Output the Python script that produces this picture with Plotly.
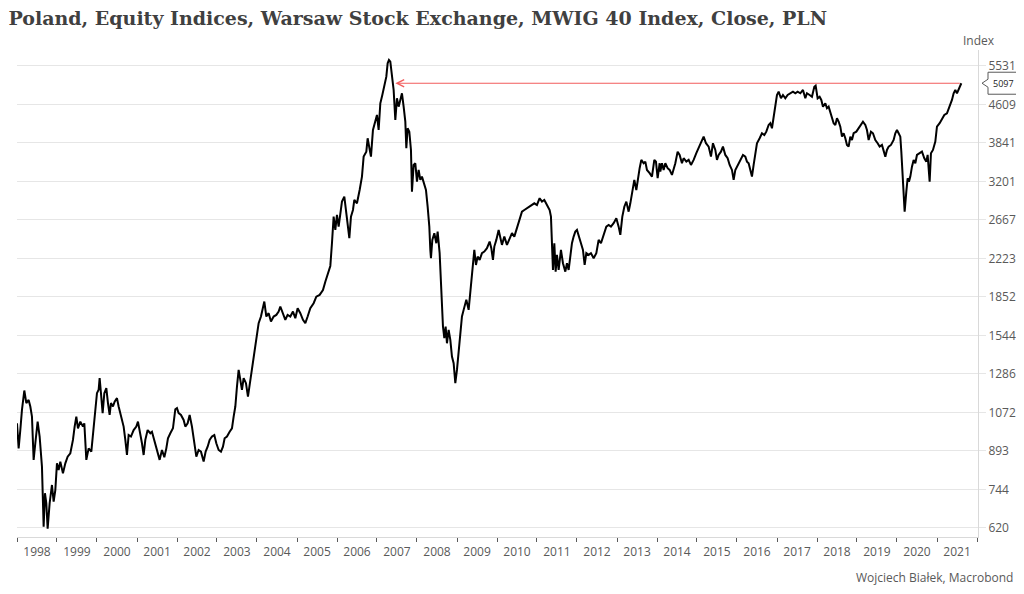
import math
import pandas as pd
import plotly.graph_objects as go

title_text = "Poland, Equity Indices, Warsaw Stock Exchange, MWIG 40 Index, Close, PLN"
source_text = "Wojciech Białek, Macrobond"
unit_text = "Index"

# observation time as fractional years
obs_year = [
    1998.000, 1998.041, 1998.083, 1998.124, 1998.183, 1998.233, 1998.291, 1998.333, 1998.374, 1998.416, 1998.458, 1998.516,
    1998.566, 1998.624, 1998.666, 1998.699, 1998.733, 1998.766, 1998.816, 1998.874, 1998.916, 1998.958, 1998.999, 1999.041,
    1999.083, 1999.149, 1999.208, 1999.266, 1999.333, 1999.399, 1999.441, 1999.483, 1999.524, 1999.583, 1999.649, 1999.683,
    1999.733, 1999.791, 1999.858, 1999.916, 1999.958, 1999.999, 2000.041, 2000.066, 2000.099, 2000.141, 2000.183, 2000.233,
    2000.274, 2000.316, 2000.349, 2000.399, 2000.441, 2000.499, 2000.541, 2000.599, 2000.666, 2000.708, 2000.749, 2000.791,
    2000.849, 2000.916, 2000.983, 2001.024, 2001.066, 2001.124, 2001.166, 2001.208, 2001.266, 2001.333, 2001.374, 2001.433,
    2001.499, 2001.566, 2001.624, 2001.683, 2001.733, 2001.774, 2001.833, 2001.899, 2001.958, 2001.999, 2002.041, 2002.099,
    2002.166, 2002.208, 2002.266, 2002.316, 2002.374, 2002.433, 2002.483, 2002.541, 2002.599, 2002.666, 2002.716, 2002.766,
    2002.816, 2002.874, 2002.933, 2002.983, 2003.041, 2003.099, 2003.149, 2003.191, 2003.249, 2003.316, 2003.374, 2003.416,
    2003.458, 2003.499, 2003.541, 2003.583, 2003.624, 2003.666, 2003.724, 2003.774, 2003.833, 2003.899, 2003.958, 2003.999,
    2004.041, 2004.099, 2004.149, 2004.183, 2004.233, 2004.291, 2004.349, 2004.416, 2004.483, 2004.541, 2004.583, 2004.649,
    2004.708, 2004.766, 2004.833, 2004.899, 2004.958, 2005.016, 2005.083, 2005.149, 2005.208, 2005.266, 2005.333, 2005.416,
    2005.483, 2005.566, 2005.649, 2005.708, 2005.791, 2005.833, 2005.874, 2005.916, 2005.958, 2005.999, 2006.041, 2006.083,
    2006.124, 2006.183, 2006.233, 2006.274, 2006.308, 2006.349, 2006.399, 2006.433, 2006.499, 2006.566, 2006.624, 2006.666,
    2006.733, 2006.766, 2006.816, 2006.849, 2006.899, 2006.958, 2006.999, 2007.041, 2007.083, 2007.133, 2007.183, 2007.233,
    2007.266, 2007.299, 2007.333, 2007.374, 2007.416, 2007.458, 2007.499, 2007.541, 2007.583, 2007.624, 2007.666, 2007.708,
    2007.733, 2007.766, 2007.808, 2007.849, 2007.874, 2007.916, 2007.958, 2007.999, 2008.041, 2008.083, 2008.124, 2008.166,
    2008.224, 2008.266, 2008.308, 2008.333, 2008.349, 2008.383, 2008.433, 2008.483, 2008.516, 2008.566, 2008.583, 2008.608,
    2008.649, 2008.683, 2008.716, 2008.749, 2008.791, 2008.833, 2008.874, 2008.916, 2008.958, 2008.999, 2009.041, 2009.083,
    2009.124, 2009.166, 2009.233, 2009.291, 2009.333, 2009.374, 2009.433, 2009.474, 2009.516, 2009.566, 2009.624, 2009.683,
    2009.749, 2009.816, 2009.858, 2009.899, 2009.933, 2009.983, 2010.041, 2010.124, 2010.183, 2010.249, 2010.316, 2010.374,
    2010.433, 2010.499, 2010.566, 2010.624, 2010.683, 2010.749, 2010.816, 2010.874, 2010.933, 2010.999, 2011.066, 2011.124,
    2011.183, 2011.249, 2011.316, 2011.349, 2011.374, 2011.399, 2011.433, 2011.466, 2011.499, 2011.541, 2011.599, 2011.649,
    2011.708, 2011.749, 2011.791, 2011.833, 2011.874, 2011.916, 2011.958, 2011.999, 2012.041, 2012.099, 2012.149, 2012.191,
    2012.233, 2012.291, 2012.349, 2012.416, 2012.483, 2012.541, 2012.599, 2012.666, 2012.733, 2012.791, 2012.849, 2012.916,
    2012.983, 2013.041, 2013.083, 2013.133, 2013.183, 2013.233, 2013.291, 2013.333, 2013.399, 2013.433, 2013.483, 2013.516,
    2013.566, 2013.608, 2013.666, 2013.708, 2013.749, 2013.816, 2013.874, 2013.933, 2013.974, 2014.016, 2014.066, 2014.083,
    2014.124, 2014.166, 2014.208, 2014.266, 2014.316, 2014.374, 2014.416, 2014.458, 2014.516, 2014.566, 2014.624, 2014.666,
    2014.733, 2014.791, 2014.849, 2014.916, 2014.983, 2015.041, 2015.099, 2015.166, 2015.224, 2015.291, 2015.349, 2015.399,
    2015.458, 2015.499, 2015.541, 2015.599, 2015.649, 2015.708, 2015.766, 2015.816, 2015.874, 2015.916, 2015.958, 2016.016,
    2016.083, 2016.149, 2016.208, 2016.249, 2016.291, 2016.333, 2016.374, 2016.416, 2016.458, 2016.499, 2016.566, 2016.624,
    2016.683, 2016.733, 2016.791, 2016.833, 2016.874, 2016.916, 2016.958, 2016.999, 2017.041, 2017.099, 2017.149, 2017.208,
    2017.266, 2017.333, 2017.399, 2017.458, 2017.516, 2017.583, 2017.649, 2017.708, 2017.749, 2017.816, 2017.874, 2017.933,
    2017.966, 2018.016, 2018.066, 2018.108, 2018.149, 2018.208, 2018.249, 2018.291, 2018.333, 2018.374, 2018.416, 2018.458,
    2018.499, 2018.541, 2018.583, 2018.624, 2018.666, 2018.708, 2018.749, 2018.791, 2018.833, 2018.874, 2018.916, 2018.983,
    2019.041, 2019.083, 2019.149, 2019.208, 2019.249, 2019.291, 2019.349, 2019.399, 2019.458, 2019.516, 2019.566, 2019.624,
    2019.666, 2019.708, 2019.749, 2019.791, 2019.849, 2019.916, 2019.958, 2019.999, 2020.041, 2020.083, 2020.108, 2020.133,
    2020.166, 2020.191, 2020.233, 2020.266, 2020.299, 2020.333, 2020.374, 2020.416, 2020.458, 2020.499, 2020.566, 2020.624,
    2020.683, 2020.733, 2020.766, 2020.791, 2020.816, 2020.849, 2020.899, 2020.958, 2020.999, 2021.066, 2021.124, 2021.183,
    2021.249, 2021.316, 2021.374, 2021.416, 2021.458, 2021.499, 2021.541, 2021.583, 2021.608,
]

# MWIG 40 close, PLN
close = [
    1018, 904, 986, 1085, 1189, 1120, 1137, 1102, 1051, 856, 926, 1026,
    956, 829, 624, 731, 697, 618, 697, 760, 702, 742, 842, 816,
    849, 803, 842, 869, 883, 941, 1002, 1051, 994, 1026, 1002, 1018,
    856, 904, 890, 1002, 1068, 1174, 1193, 1261, 1174, 1068, 1174, 1202,
    1120, 1059, 1120, 1102, 1128, 1147, 1102, 1059, 1002, 941, 876, 963,
    956, 986, 1002, 1026, 986, 926, 876, 941, 986, 971, 978, 941,
    890, 856, 897, 867, 904, 948, 971, 994, 1088, 1094, 1068, 1059,
    1034, 1002, 1018, 1059, 1002, 926, 869, 897, 890, 849, 890, 911,
    941, 956, 963, 926, 897, 890, 911, 948, 956, 978, 994, 1051,
    1102, 1211, 1311, 1250, 1193, 1261, 1231, 1155, 1250, 1374, 1487, 1535,
    1636, 1688, 1770, 1812, 1688, 1715, 1648, 1688, 1701, 1728, 1770, 1715,
    1662, 1701, 1688, 1728, 1675, 1756, 1715, 1662, 1636, 1688, 1756, 1798,
    1855, 1870, 1914, 1991, 2105, 2145, 2389, 2709, 2544, 2731, 2584, 2753,
    2909, 2978, 2753, 2626, 2446, 2709, 2796, 2932, 2886, 3074, 3275, 3600,
    3686, 3927, 3716, 3600, 4085, 4283, 4386, 4085, 4635, 4821, 5055, 5258,
    5602, 5690, 5645, 5258, 4937, 4283, 4746, 4562, 4709, 4860, 4562, 4249,
    3746, 4118, 4052, 3716, 3050, 3461, 3489, 3198, 3380, 3224, 3275, 3173,
    3074, 2840, 2584, 2314, 2225, 2427, 2505, 2389, 2524, 2279, 2105, 1798,
    1610, 1523, 1610, 1487, 1585, 1511, 1396, 1353, 1231, 1311, 1441, 1560,
    1688, 1742, 1827, 1742, 1914, 2105, 2314, 2155, 2242, 2207, 2279, 2296,
    2333, 2407, 2333, 2207, 2351, 2427, 2544, 2370, 2465, 2370, 2446, 2505,
    2465, 2565, 2689, 2774, 2796, 2819, 2840, 2863, 2886, 2863, 2956, 2909,
    2932, 2863, 2796, 2709, 2427, 2105, 2389, 2088, 2260, 2105, 2314, 2173,
    2088, 2173, 2105, 2279, 2389, 2465, 2524, 2544, 2465, 2389, 2314, 2155,
    2279, 2260, 2279, 2225, 2279, 2427, 2389, 2485, 2584, 2605, 2584, 2626,
    2689, 2584, 2485, 2709, 2840, 2909, 2774, 2886, 3123, 3224, 3074, 3224,
    3408, 3545, 3489, 3516, 3380, 3328, 3275, 3545, 3516, 3250, 3489, 3353,
    3489, 3380, 3489, 3408, 3380, 3301, 3380, 3489, 3686, 3629, 3489, 3573,
    3516, 3545, 3461, 3545, 3659, 3746, 3836, 3957, 3836, 3775, 3600, 3836,
    3716, 3545, 3629, 3686, 3775, 3629, 3573, 3461, 3380, 3224, 3380, 3461,
    3545, 3629, 3600, 3516, 3489, 3353, 3275, 3461, 3686, 3836, 3927, 4022,
    3989, 4052, 4183, 4217, 4118, 4318, 4599, 4821, 4897, 4746, 4821, 4746,
    4821, 4860, 4897, 4860, 4897, 4860, 4937, 4746, 4860, 4821, 4782, 5014,
    5039, 4746, 4782, 4709, 4562, 4635, 4527, 4562, 4455, 4318, 4217, 4183,
    4318, 4249, 4149, 3957, 4022, 3927, 3805, 3775, 3957, 3896, 4022, 4052,
    4118, 4183, 4249, 4183, 4085, 3896, 4052, 4022, 3896, 3836, 3775, 3805,
    3686, 3600, 3716, 3775, 3805, 3896, 4022, 4085, 4022, 3957, 3686, 3301,
    2932, 2774, 3050, 3250, 3198, 3275, 3433, 3545, 3489, 3629, 3659, 3686,
    3573, 3516, 3629, 3461, 3198, 3659, 3716, 3865, 4149, 4217, 4318, 4386,
    4421, 4562, 4709, 4860, 4937, 4860, 4937, 5014, 5097,
]

y_tick_values = [620, 744, 893, 1072, 1286, 1544, 1852, 2223, 2667, 3201, 3841, 4609, 5531]
y_range_values = [594, 5966]
x_range_years = [1998.0, 2022.025]
# time at which the series last stood at its latest level (2007 downturn)
level_cross_year = 2007.458


def to_date(y):
    return pd.Timestamp("1998-01-01") + pd.Timedelta(days=(y - 1998.0) * 365.25)


dates = [to_date(y) for y in obs_year]
last_value = close[-1]
last_date = dates[-1]

log_lo = math.log10(y_range_values[0])
log_hi = math.log10(y_range_values[1])
last_paper_y = (math.log10(last_value) - log_lo) / (log_hi - log_lo)

# the page adds an 8 px body margin, so the figure is laid out 8 px smaller
W, H = 1016, 586
ML, MR, MT, MB = 9, 46, 42, 57
plot_w = W - ML - MR
plot_h = H - MT - MB

fig = go.Figure()
fig.add_trace(go.Scatter(
    x=dates, y=close, mode="lines",
    line=dict(color="#000000", width=2),
    hoverinfo="skip", showlegend=False,
))

fmt = "%Y-%m-%d %H:%M"
fig.add_annotation(
    x=to_date(level_cross_year).strftime(fmt), y=math.log10(last_value),
    ax=last_date.strftime(fmt), ay=math.log10(last_value),
    xref="x", yref="y", axref="x", ayref="y",
    text="", showarrow=True, arrowhead=5, arrowsize=1.3, arrowwidth=1.1,
    arrowcolor="#f25c5c", standoff=0, startstandoff=0,
)

# value callout at the right axis
fig.add_shape(
    type="path", xref="paper", yref="paper",
    xsizemode="pixel", ysizemode="pixel", xanchor=1, yanchor=last_paper_y,
    path="M 10,11 L 41,11 L 41,-11 L 10,-11 L 10,-4 L 4,0 L 10,4 Z",
    line=dict(color="#595959", width=1), fillcolor="#ffffff", layer="above",
)
fig.add_annotation(
    x=1, y=last_paper_y, xref="paper", yref="paper", xshift=25.5,
    text=str(last_value), showarrow=False, xanchor="center", yanchor="middle",
    font=dict(family="Open Sans", size=9, color="#222222"),
)

fig.add_annotation(
    x=1, y=(plot_h + 10) / plot_h, xref="paper", yref="paper", xshift=1,
    text=unit_text, showarrow=False, xanchor="center", yanchor="middle",
    font=dict(family="Open Sans", size=12, color="#595959"),
)
fig.add_annotation(
    x=(W - 9 - ML) / plot_w, y=-40 / plot_h, xref="paper", yref="paper",
    text=source_text, showarrow=False, xanchor="right", yanchor="middle",
    font=dict(family="Open Sans", size=12, color="#595959"),
)

fig.update_layout(
    width=W, height=H,
    margin=dict(l=ML, r=MR, t=MT, b=MB),
    paper_bgcolor="#ffffff", plot_bgcolor="#ffffff",
    title=dict(
        text="<b>" + title_text + "</b>",
        x=0.5 / W, xanchor="left", xref="container",
        y=1 - 10 / H, yanchor="middle", yref="container",
        font=dict(family="DejaVu Serif", size=19, color="#404040"),
    ),
    showlegend=False,
)
fig.update_xaxes(
    type="date",
    range=[to_date(x_range_years[0]), to_date(x_range_years[1])],
    tick0="1998-01-01", dtick="M12", tickformat="%Y", ticklabelmode="period",
    ticks="outside", ticklen=4, tickcolor="#595959", tickwidth=1,
    showline=True, linecolor="#d9d9d9", linewidth=1,
    showgrid=False, zeroline=False,
    tickfont=dict(family="Open Sans", size=12, color="#595959"),
)
fig.update_yaxes(
    type="log", side="right",
    range=[log_lo, log_hi],
    tickvals=y_tick_values, ticktext=[str(v) for v in y_tick_values],
    showgrid=True, gridcolor="#e6e6e6", gridwidth=1,
    ticks="outside", ticklen=7, tickcolor="#e6e6e6",
    showline=True, linecolor="#d9d9d9", linewidth=1,
    zeroline=False,
    tickfont=dict(family="Open Sans", size=12, color="#595959"),
)

fig.write_html("out.html")
